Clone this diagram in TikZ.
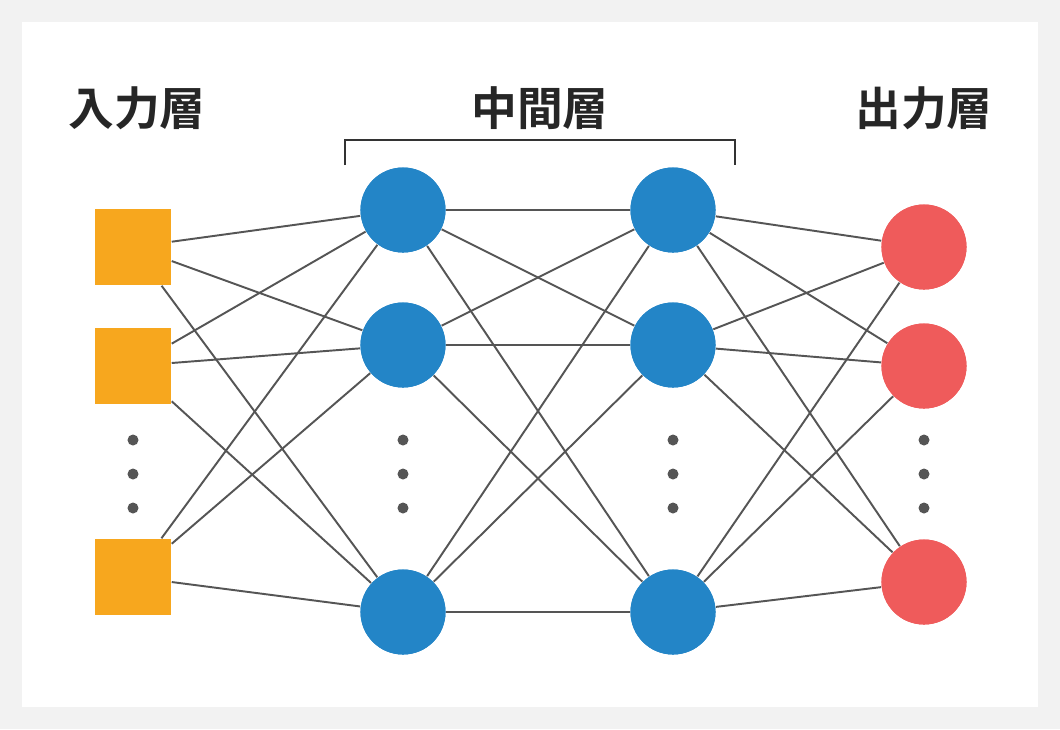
\documentclass[tikz,border=0pt]{standalone}
\usepackage{fontspec}
\newfontfamily\cjk{Noto Sans CJK JP}[BoldFont={Noto Sans CJK JP Bold}]
\usetikzlibrary{positioning}
\definecolor{inorange}{HTML}{F7A71E}
\definecolor{midblue}{HTML}{2385C7}
\definecolor{outred}{HTML}{EF5B5B}
\definecolor{edgegray}{HTML}{555555}
\definecolor{bggray}{HTML}{F2F2F2}
\tikzset{
  unit_in/.style={rectangle,fill=inorange,minimum size=0.76cm,inner sep=0pt},
  unit_mid/.style={circle,fill=midblue,minimum size=0.85cm,inner sep=0pt},
  unit_out/.style={circle,fill=outred,minimum size=0.85cm,inner sep=0pt},
  wire/.style={draw=edgegray,line width=0.55pt},
  vdot/.style={circle,fill=edgegray,minimum size=0.11cm,inner sep=0pt},
  layer_title/.style={font=\cjk\bfseries\fontsize{13pt}{15pt}\selectfont,text=black!85}
}
\begin{document}
\begin{tikzpicture}[x=0.01cm,y=-0.01cm]
  \fill[bggray] (0,0) rectangle (1060,729);
  \fill[white] (22,22) rectangle (1038,707);

  % units
  \foreach \i/\y in {1/247,2/366,3/577}
    \node (in_\i) [unit_in] at (133,\y) {};
  \foreach \i/\y in {1/210,2/345,3/612}
  {
    \node (hidA_\i) [unit_mid] at (403,\y) {};
    \node (hidB_\i) [unit_mid] at (673,\y) {};
  }
  \foreach \i/\y in {1/247,2/366,3/582}
    \node (out_\i) [unit_out] at (924,\y) {};

  % connections
  \begin{scope}[on background layer/.style={}]
  \foreach \a in {1,2,3}
    \foreach \b in {1,2,3}
    {
      \draw[wire] (in_\a) -- (hidA_\b);
      \draw[wire] (hidA_\a) -- (hidB_\b);
      \draw[wire] (hidB_\a) -- (out_\b);
    }
  \end{scope}
  % redraw units on top
  \foreach \i/\y in {1/247,2/366,3/577}
    \node [unit_in] at (133,\y) {};
  \foreach \i/\y in {1/210,2/345,3/612}
  {
    \node [unit_mid] at (403,\y) {};
    \node [unit_mid] at (673,\y) {};
  }
  \foreach \i/\y in {1/247,2/366,3/582}
    \node [unit_out] at (924,\y) {};

  % ellipses
  \foreach \x/\n in {133/a,403/b,673/c,924/d}
    \foreach \y/\k in {440/1,474/2,508/3}
      \node (dot_\n\k) [vdot] at (\x,\y) {};

  % titles
  \node (title_in) [layer_title] at (137,108) {入力層};
  \node (title_mid) [layer_title] at (540,108) {中間層};
  \node (title_out) [layer_title] at (924,108) {出力層};
  \coordinate (brace_l) at (345,165);
  \coordinate (brace_r) at (735,165);
  \draw[line width=0.5pt,black!80] (brace_l) -- ++(0,-25) -| (brace_r);
\end{tikzpicture}
\end{document}
